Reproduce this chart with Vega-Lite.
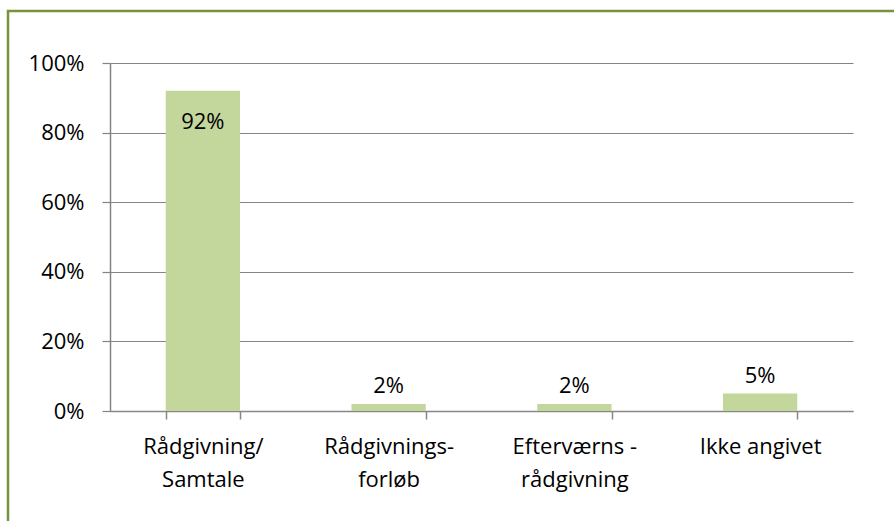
{
  "$schema": "https://vega.github.io/schema/vega-lite/v6.json",
  "width": 890,
  "height": 515,
  "autosize": "none",
  "padding": {"left": 8, "top": 11, "right": 0, "bottom": 0},
  "background": "white",
  "config": {
    "view": {"stroke": "#77933C", "strokeWidth": 2.5},
    "font": "Open Sans"
  },
  "data": {
    "values": [
      {"kategori": "Rådgivning/\nSamtale", "andel": 0.92},
      {"kategori": "Rådgivnings-\nforløb", "andel": 0.02},
      {"kategori": "Efterværns -\nrådgivning", "andel": 0.02},
      {"kategori": "Ikke angivet", "andel": 0.05}
    ]
  },
  "encoding": {
    "x": {
      "field": "kategori",
      "type": "nominal",
      "sort": null,
      "scale": {"range": [102, 845], "paddingInner": 0.6, "paddingOuter": 0.3},
      "axis": {
        "title": null,
        "labelAngle": 0,
        "offset": -115,
        "domainColor": "#878787",
        "domainWidth": 1.5,
        "tickColor": "#878787",
        "tickWidth": 1.5,
        "tickSize": 8,
        "tickBand": "extent",
        "labelFont": "Open Sans",
        "labelFontSize": 22,
        "labelColor": "black",
        "labelPadding": 17,
        "labelLineHeight": 33,
        "labelBaseline": "top",
        "labelLimit": 0,
        "labelExpr": "isValid(datum.value) ? split(datum.value, '\\n') : ''"
      }
    },
    "y": {
      "field": "andel",
      "type": "quantitative",
      "scale": {"domain": [0, 1], "range": [400, 52], "nice": false},
      "axis": {
        "title": null,
        "offset": -102,
        "values": [0, 0.2, 0.4, 0.6, 0.8, 1],
        "format": ".0%",
        "grid": true,
        "gridColor": "#848484",
        "gridWidth": 1.2,
        "gridOpacity": 1,
        "domainColor": "#848484",
        "domainWidth": 1.5,
        "tickColor": "#848484",
        "tickWidth": 1.2,
        "tickSize": 8,
        "labelFont": "Open Sans",
        "labelFontSize": 22,
        "labelColor": "black",
        "labelPadding": 18
      }
    }
  },
  "layer": [
    {"mark": {"type": "bar", "color": "#C3D69B"}},
    {
      "transform": [{"filter": "datum.andel > 0.5"}],
      "mark": {"type": "text", "font": "Open Sans", "fontSize": 22, "color": "black", "baseline": "alphabetic", "dy": 38},
      "encoding": {"text": {"field": "andel", "type": "quantitative", "format": ".0%"}}
    },
    {
      "transform": [{"filter": "datum.andel <= 0.5"}],
      "mark": {"type": "text", "font": "Open Sans", "fontSize": 22, "color": "black", "baseline": "alphabetic", "dy": -11},
      "encoding": {"text": {"field": "andel", "type": "quantitative", "format": ".0%"}}
    }
  ]
}
